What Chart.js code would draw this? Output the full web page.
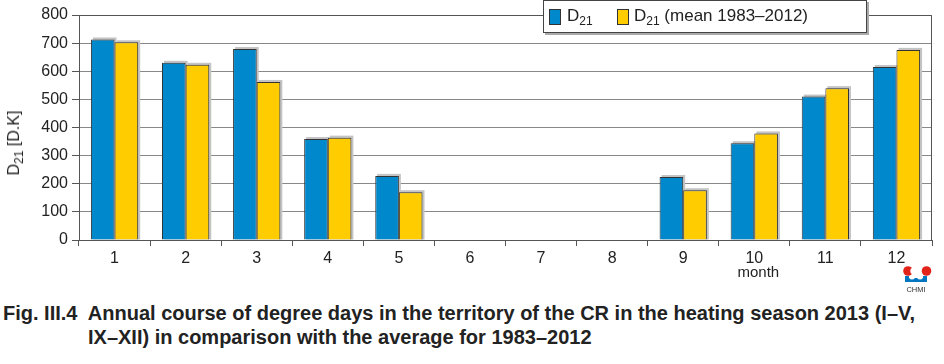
<!DOCTYPE html>
<html>
<head>
<meta charset="utf-8">
<script src="https://cdn.jsdelivr.net/npm/chart.js@4.4.1/dist/chart.umd.min.js"></script>
<style>
  body { margin: 0; background: #fff; width: 944px; height: 364px; overflow: hidden; position: relative; font-family: "Liberation Sans", Arial, sans-serif; color: #222; }
  #chart { position: absolute; left: 0; top: 0; }
  .legend { position: absolute; left: 543px; top: 0px; width: 322px; height: 31px; background: #fff; border: 1px solid #444; box-shadow: 2px 2px 0 #aaa; font-size: 17px; }
  .legend .sw { position: absolute; top: 8px; width: 10px; height: 14px; border: 1px solid #333; }
  .legend .lbl { position: absolute; top: 5px; white-space: nowrap; }
  sub { font-size: 12px; vertical-align: -4px; line-height: 0; }
  .ytitle { position: absolute; left: 14px; top: 143px; transform: translate(-50%, -50%) rotate(-90deg); font-size: 16px; white-space: nowrap; }
  .caption { position: absolute; left: 3px; top: 301px; font-weight: bold; font-size: 20px; line-height: 24px; color: #222; white-space: nowrap; }
  .caption .l2 { padding-left: 85px; }
  .logo { position: absolute; left: 898px; top: 262px; }
</style>
</head>
<body>
<canvas id="chart" width="944" height="300"></canvas>
<div class="legend">
  <div class="sw" style="left:5px;background:#0088cc"></div>
  <div class="lbl" style="left:23px">D<sub>21</sub></div>
  <div class="sw" style="left:73px;background:#ffcc00"></div>
  <div class="lbl" style="left:90px">D<sub>21</sub> (mean 1983–2012)</div>
</div>
<div class="ytitle">D<sub>21</sub> [D.K]</div>
<svg class="logo" width="36" height="34" viewBox="0 0 36 34">
  <circle cx="10" cy="9" r="4.8" fill="#e2231a"/>
  <circle cx="15.5" cy="9" r="3.2" fill="#fff"/>
  <circle cx="28.5" cy="9" r="4.8" fill="#e2231a"/>
  <path d="M7 14 l4 0 l0 2 q3 3 6 0 l2 0 q3 3 6 0 l0 -2 l4 0 l0 6 l-22 0 z" fill="#0077c0"/>
  <text x="18" y="30" font-size="7.5" text-anchor="middle" fill="#333" font-family="Liberation Sans, Arial">CHMI</text>
</svg>
<div class="caption">
  <div>Fig. III.4&nbsp; Annual course of degree days in the territory of the CR in the heating season 2013 (I–V,</div>
  <div class="l2">IX–XII) in comparison with the average for 1983–2012</div>
</div>
<script>
// Data
const months = ['1', '2', '3', '4', '5', '6', '7', '8', '9', '10', '11', '12'];
const d21 = [713, 630, 679, 359, 228, null, null, null, 224, 344, 510, 615];
const d21Mean = [703, 623, 562, 364, 170, null, null, null, 177, 379, 540, 676];
const yTicks = [0, 100, 200, 300, 400, 500, 600, 700, 800];

// Bar shadows + plot border + "month" label
const decor = {
  id: 'decor',
  beforeDatasetsDraw(chart) {
    const ctx = chart.ctx;
    ctx.save();
    ctx.fillStyle = '#c4c4c4';
    chart.data.datasets.forEach((ds, i) => {
      chart.getDatasetMeta(i).data.forEach(bar => {
        if (bar.y == null || isNaN(bar.y) || bar.base - bar.y < 1) return;
        ctx.fillRect(bar.x - bar.width / 2 + 2, bar.y - 2, bar.width, bar.base - bar.y + 2);
      });
    });
    ctx.restore();
  },
  afterDraw(chart) {
    const ctx = chart.ctx;
    const a = chart.chartArea;
    ctx.save();
    ctx.strokeStyle = '#555';
    ctx.lineWidth = 1;
    ctx.beginPath();
    ctx.moveTo(a.left, a.top + 0.5);
    ctx.lineTo(a.right - 0.5, a.top + 0.5);
    ctx.lineTo(a.right - 0.5, a.bottom);
    ctx.stroke();
    ctx.fillStyle = '#222';
    ctx.font = '15px "Liberation Sans", Arial, sans-serif';
    ctx.textAlign = 'center';
    ctx.textBaseline = 'middle';
    const x10 = chart.scales.x.getPixelForValue(9);
    ctx.fillText('month', x10 + 4, 273);
    ctx.restore();
  }
};

const ctx = document.getElementById('chart').getContext('2d');
new Chart(ctx, {
  type: 'bar',
  data: {
    labels: months,
    datasets: [
      { label: 'D21', data: d21, backgroundColor: '#0088cc', borderColor: '#333', borderWidth: 1 },
      { label: 'D21 (mean 1983–2012)', data: d21Mean, backgroundColor: '#ffcc00', borderColor: '#333', borderWidth: 1 }
    ]
  },
  options: {
    responsive: false,
    animation: false,
    layout: { padding: { top: 15, right: 12, left: 0, bottom: 0 } },
    datasets: { bar: { categoryPercentage: 0.665, barPercentage: 1 } },
    plugins: { legend: { display: false }, tooltip: { enabled: false } },
    scales: {
      x: {
        grid: { offset: true, drawOnChartArea: false, drawTicks: true, tickLength: 6, color: '#555' },
        border: { color: '#555' },
        ticks: { color: '#222', font: { size: 16, family: '"Liberation Sans", Arial, sans-serif' }, padding: 3, maxRotation: 0 },
        afterFit(scale) { scale.height = 60; }
      },
      y: {
        min: 0,
        max: 800,
        afterBuildTicks(scale) { scale.ticks = yTicks.map(v => ({ value: v })); },
        grid: { color: '#888', tickLength: 7, tickColor: '#555' },
        border: { color: '#555' },
        ticks: { color: '#222', font: { size: 16, family: '"Liberation Sans", Arial, sans-serif' }, padding: 4 },
        afterFit(scale) { scale.width = 79; }
      }
    }
  },
  plugins: [decor]
});
</script>
</body>
</html>
